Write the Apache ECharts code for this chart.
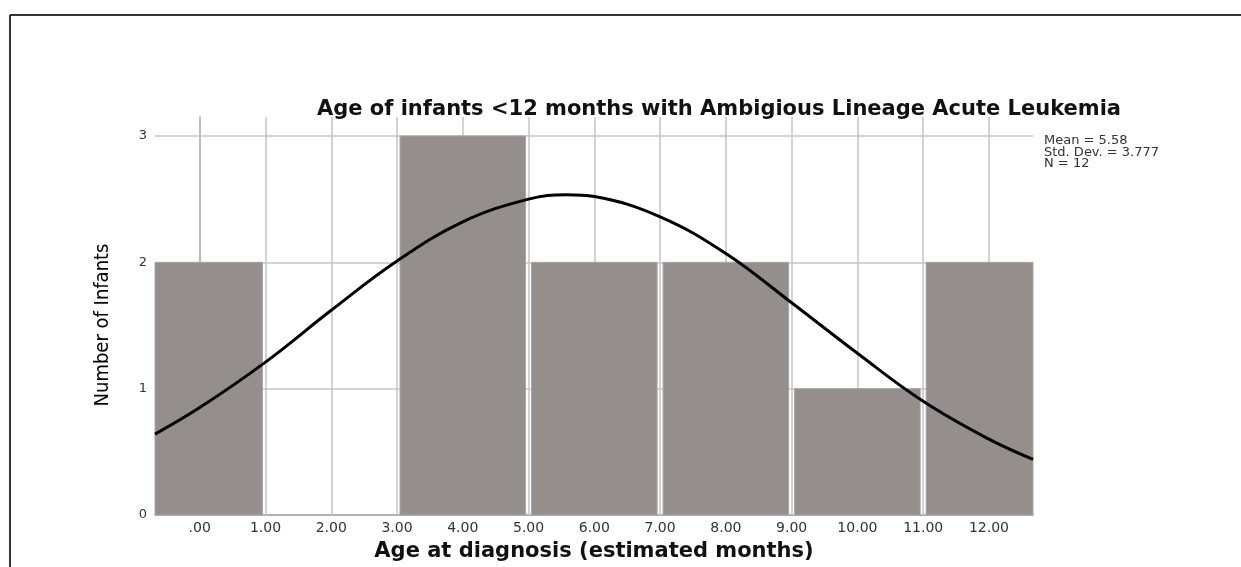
<!DOCTYPE html>
<html>
<head>
<meta charset="utf-8">
<script src="https://cdn.jsdelivr.net/npm/echarts@6/dist/echarts.min.js"></script>
<style>
  html, body { margin: 0; padding: 0; background: #fff; }
  #chart { width: 1241px; height: 567px; }
</style>
</head>
<body>
<div id="chart"></div>
<script>
// histogram bins (months) and counts
var binStart = [-1, 1, 3, 5, 7, 9, 11];
var binEnd = [1, 3, 5, 7, 9, 11, 13];
var counts = [2, 0, 3, 2, 2, 1, 2];

// normal curve
var curveX = [-0.68, 0, 1, 2, 3, 4, 5, 5.58, 6, 7, 8, 9, 10, 11, 12, 12.67];
var curveY = [0.64, 0.85, 1.21, 1.62, 2.01, 2.32, 2.5, 2.535, 2.52, 2.36, 2.07, 1.68, 1.28, 0.9, 0.6, 0.44];

var xTicks = [0, 1, 2, 3, 4, 5, 6, 7, 8, 9, 10, 11, 12];
var yTicks = [1, 2, 3];

var stats = ['Mean = 5.58', 'Std. Dev. = 3.777', 'N = 12'];

var chart = echarts.init(document.getElementById('chart'));

var gridLines = [];
xTicks.forEach(function (v) { gridLines.push({ xAxis: v }); });
yTicks.forEach(function (v) { gridLines.push({ yAxis: v }); });

chart.setOption({
  animation: false,
  textStyle: { fontFamily: 'DejaVu Sans' },
  title: [
    {
      text: 'Age of infants <12 months with Ambigious Lineage Acute Leukemia',
      left: 714,
      top: 94,
      textAlign: 'center',
      textStyle: { fontFamily: 'DejaVu Sans', fontWeight: 'bold', fontSize: 21, color: '#111' }
    },
    {
      text: stats.join('\n'),
      left: 1044,
      top: 135,
      padding: 0,
      textStyle: { fontFamily: 'DejaVu Sans', fontWeight: 'normal', fontSize: 13, lineHeight: 11.5, color: '#333' }
    }
  ],
  graphic: [
    { type: 'line', shape: { x1: 10, y1: 15, x2: 1241, y2: 15 }, style: { stroke: '#333', lineWidth: 2 } },
    { type: 'line', shape: { x1: 10, y1: 15, x2: 10, y2: 567 }, style: { stroke: '#333', lineWidth: 2 } },
    {
      type: 'text',
      x: 103,
      y: 325,
      rotation: Math.PI / 2,
      style: {
        text: 'Number of Infants',
        align: 'center',
        verticalAlign: 'middle',
        fontFamily: 'DejaVu Sans Condensed, Liberation Sans',
        fontSize: 20,
        fill: '#000'
      }
    }
  ],
  grid: { left: 155, right: 208, top: 117, bottom: 52 },
  xAxis: {
    type: 'value',
    min: -0.68,
    max: 12.67,
    name: 'Age at diagnosis (estimated months)',
    nameLocation: 'middle',
    nameGap: 26,
    nameTextStyle: { fontFamily: 'DejaVu Sans', fontWeight: 'bold', fontSize: 21, color: '#111' },
    axisLine: { lineStyle: { color: '#999', width: 1.5 } },
    axisTick: { show: false },
    splitLine: { show: false },
    axisLabel: {
      customValues: xTicks,
      margin: 6,
      fontSize: 14,
      color: '#333',
      formatter: function (v) { return v === 0 ? '.00' : v.toFixed(2); }
    }
  },
  yAxis: {
    type: 'value',
    min: 0,
    max: 3.15,
    interval: 1,
    axisLine: { show: true, lineStyle: { color: '#888', width: 1.5 } },
    axisTick: { show: false },
    splitLine: { show: false },
    axisLabel: {
      margin: 8,
      fontSize: 13,
      color: '#333',
      formatter: function (v) { return Number.isInteger(v) ? String(v) : ''; }
    }
  },
  series: [
    {
      type: 'line',
      data: [],
      silent: true,
      z: 1,
      markLine: {
        silent: true,
        z: 1,
        symbol: 'none',
        label: { show: false },
        lineStyle: { color: '#c4c4c4', width: 1.5, type: 'solid' },
        data: gridLines
      }
    },
    {
      type: 'custom',
      z: 2,
      data: binStart.map(function (s, i) { return [s, binEnd[i], counts[i]]; }),
      renderItem: function (params, api) {
        var p0 = api.coord([api.value(0), api.value(2)]);
        var p1 = api.coord([api.value(1), 0]);
        var rect = echarts.graphic.clipRectByRect(
          { x: p0[0] + 3, y: p0[1], width: p1[0] - p0[0] - 6, height: p1[1] - p0[1] },
          { x: params.coordSys.x, y: params.coordSys.y, width: params.coordSys.width, height: params.coordSys.height }
        );
        if (!rect || rect.height <= 0) return null;
        return { type: 'rect', shape: rect, style: { fill: '#948f8c', stroke: '#a9a5a2', lineWidth: 1 } };
      }
    },
    {
      type: 'line',
      z: 3,
      smooth: 0.4,
      showSymbol: false,
      data: curveX.map(function (x, i) { return [x, curveY[i]]; }),
      lineStyle: { color: '#000', width: 3 }
    }
  ]
});
</script>
</body>
</html>
